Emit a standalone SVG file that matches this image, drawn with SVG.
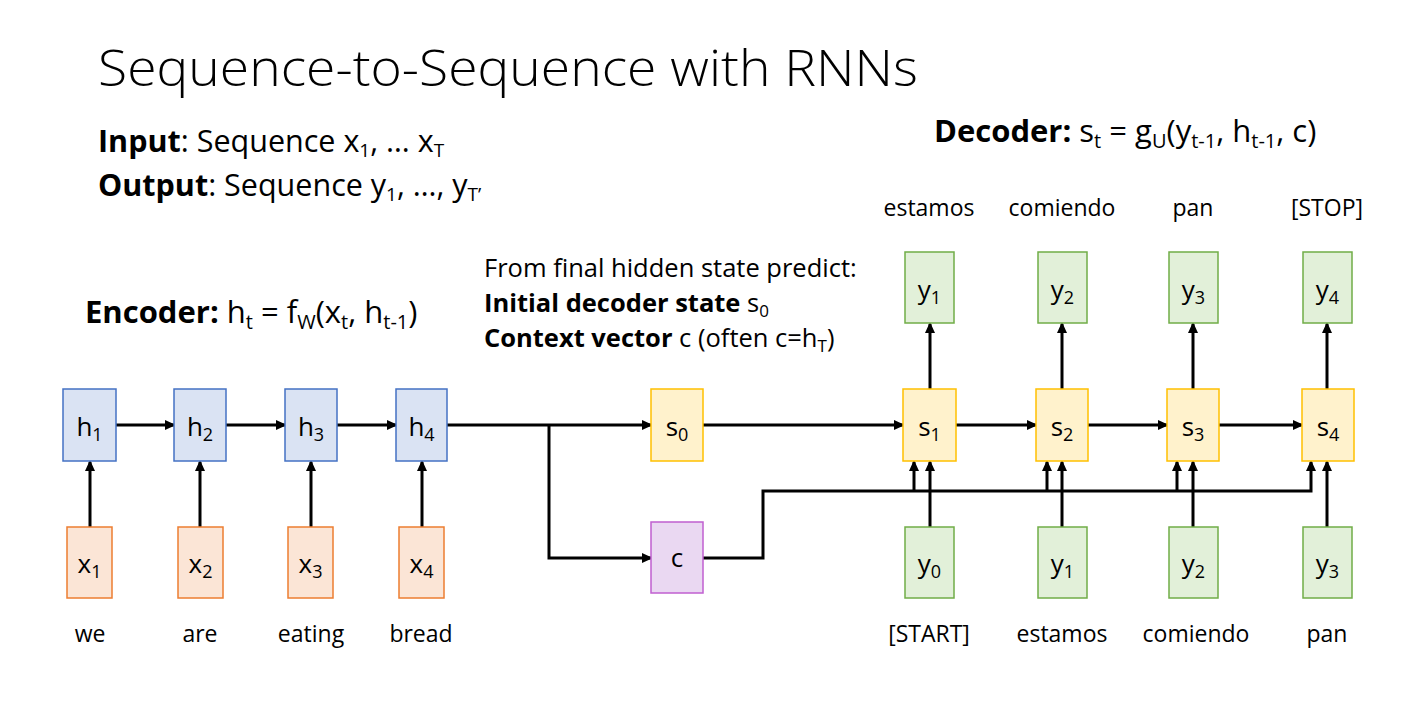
<svg xmlns="http://www.w3.org/2000/svg" width="1413" height="701" viewBox="0 0 1413 701">
<style>
text{font-family:"Open Sans","Liberation Sans",sans-serif;fill:#000}
.b{font-weight:bold}
.lbl{font-size:26px;text-anchor:middle}
.w{font-size:23px;text-anchor:middle}
.enc{fill:#dae3f3;stroke:#4472c4;stroke-width:1.5}
.inp{fill:#fbe5d6;stroke:#ed7d31;stroke-width:1.5}
.dec{fill:#fff2cc;stroke:#ffc000;stroke-width:1.5}
.out{fill:#e2f0d9;stroke:#70ad47;stroke-width:1.5}
.ctx{fill:#ead8f2;stroke:#c05fd0;stroke-width:1.5}
.ar{fill:none;stroke:#000;stroke-width:3;marker-end:url(#ah)}
</style>
<defs>
<marker id="ah" markerUnits="userSpaceOnUse" markerWidth="11" markerHeight="10" refX="9" refY="5" orient="auto">
<path d="M0,0 L11,5 L0,10 z" fill="#000"/>
</marker>
</defs>
<rect width="1413" height="701" fill="#fff"/>
<text x="98" y="86" font-size="50" font-weight="300" textLength="820" lengthAdjust="spacingAndGlyphs">Sequence-to-Sequence with RNNs</text>
<text x="98" y="152" font-size="30.5"><tspan class="b">Input</tspan>: Sequence x<tspan font-size="19" dy="5">1</tspan><tspan dy="-5">, … x</tspan><tspan font-size="19" dy="5">T</tspan></text>
<text x="98" y="196" font-size="30.5"><tspan class="b">Output</tspan>: Sequence y<tspan font-size="19" dy="5">1</tspan><tspan dy="-5">, …, y</tspan><tspan font-size="19" dy="5">T’</tspan></text>
<text x="934" y="142" font-size="31"><tspan class="b">Decoder:</tspan> s<tspan font-size="20" dy="6">t</tspan><tspan dy="-6"> = g</tspan><tspan font-size="20" dy="6">U</tspan><tspan dy="-6">(y</tspan><tspan font-size="20" dy="6">t-1</tspan><tspan dy="-6">, h</tspan><tspan font-size="20" dy="6">t-1</tspan><tspan dy="-6">, c)</tspan></text>
<text x="85" y="323" font-size="31"><tspan class="b">Encoder:</tspan> h<tspan font-size="20" dy="6">t</tspan><tspan dy="-6"> = f</tspan><tspan font-size="20" dy="6">W</tspan><tspan dy="-6">(x</tspan><tspan font-size="20" dy="6">t</tspan><tspan dy="-6">, h</tspan><tspan font-size="20" dy="6">t-1</tspan><tspan dy="-6">)</tspan></text>
<text x="484" y="277" font-size="25.5">From final hidden state predict:</text>
<text x="484" y="312" font-size="25.5"><tspan class="b">Initial decoder state</tspan> s<tspan font-size="17" dy="5">0</tspan></text>
<text x="484" y="347" font-size="25.5"><tspan class="b">Context vector</tspan> c (often c=h<tspan font-size="17" dy="5">T</tspan><tspan dy="-5">)</tspan></text>

<g id="connectors">
<path class="ar" d="M90,527 V462"/>
<path class="ar" d="M200,527 V462"/>
<path class="ar" d="M311,527 V462"/>
<path class="ar" d="M422,527 V462"/>
<path class="ar" d="M116,425 H174"/>
<path class="ar" d="M226,425 H285"/>
<path class="ar" d="M337,425 H396"/>
<path class="ar" d="M447,425 H651"/>
<path class="ar" d="M549,425 V558 H651"/>
<path class="ar" d="M703,425 H903"/>
<path class="ar" d="M956,425 H1036"/>
<path class="ar" d="M1088,425 H1167"/>
<path class="ar" d="M1219,425 H1302"/>
<path class="ar" d="M703,558 H763 V491 H1311 V462"/>
<path class="ar" d="M914,491 V462"/>
<path class="ar" d="M1047,491 V462"/>
<path class="ar" d="M1177,491 V462"/>
<path class="ar" d="M930,527 V462"/>
<path class="ar" d="M1062,527 V462"/>
<path class="ar" d="M1193,527 V462"/>
<path class="ar" d="M1327,527 V462"/>
<path class="ar" d="M930,389 V324"/>
<path class="ar" d="M1062,389 V324"/>
<path class="ar" d="M1193,389 V324"/>
<path class="ar" d="M1327,389 V324"/>
</g>

<g id="h1"><rect class="enc" x="63" y="389" width="53" height="72"/><text class="lbl" x="89.5" y="436">h<tspan font-size="18" dy="5">1</tspan></text></g>
<g id="h2"><rect class="enc" x="174" y="389" width="52" height="72"/><text class="lbl" x="200" y="436">h<tspan font-size="18" dy="5">2</tspan></text></g>
<g id="h3"><rect class="enc" x="285" y="389" width="52" height="72"/><text class="lbl" x="311" y="436">h<tspan font-size="18" dy="5">3</tspan></text></g>
<g id="h4"><rect class="enc" x="396" y="389" width="51" height="72"/><text class="lbl" x="421.5" y="436">h<tspan font-size="18" dy="5">4</tspan></text></g>

<g id="x1"><rect class="inp" x="67" y="527" width="45" height="71"/><text class="lbl" x="89.5" y="573">x<tspan font-size="18" dy="5">1</tspan></text></g>
<g id="x2"><rect class="inp" x="178" y="527" width="45" height="71"/><text class="lbl" x="200.5" y="573">x<tspan font-size="18" dy="5">2</tspan></text></g>
<g id="x3"><rect class="inp" x="288" y="527" width="45" height="71"/><text class="lbl" x="310.5" y="573">x<tspan font-size="18" dy="5">3</tspan></text></g>
<g id="x4"><rect class="inp" x="399" y="527" width="45" height="71"/><text class="lbl" x="421.5" y="573">x<tspan font-size="18" dy="5">4</tspan></text></g>

<g id="s0"><rect class="dec" x="651" y="389" width="52" height="72"/><text class="lbl" x="677" y="436">s<tspan font-size="18" dy="5">0</tspan></text></g>
<g id="c"><rect class="ctx" x="651" y="522" width="52" height="71"/><text class="lbl" x="677" y="567">c</text></g>

<g id="s1"><rect class="dec" x="903" y="389" width="53" height="72"/><text class="lbl" x="929.5" y="436">s<tspan font-size="18" dy="5">1</tspan></text></g>
<g id="s2"><rect class="dec" x="1036" y="389" width="52" height="72"/><text class="lbl" x="1062" y="436">s<tspan font-size="18" dy="5">2</tspan></text></g>
<g id="s3"><rect class="dec" x="1167" y="389" width="52" height="72"/><text class="lbl" x="1193" y="436">s<tspan font-size="18" dy="5">3</tspan></text></g>
<g id="s4"><rect class="dec" x="1302" y="389" width="52" height="72"/><text class="lbl" x="1328" y="436">s<tspan font-size="18" dy="5">4</tspan></text></g>

<g id="yin0"><rect class="out" x="905" y="527" width="49" height="71"/><text class="lbl" x="929.5" y="573">y<tspan font-size="18" dy="5">0</tspan></text></g>
<g id="yin1"><rect class="out" x="1038" y="527" width="49" height="71"/><text class="lbl" x="1062.5" y="573">y<tspan font-size="18" dy="5">1</tspan></text></g>
<g id="yin2"><rect class="out" x="1169" y="527" width="49" height="71"/><text class="lbl" x="1193.5" y="573">y<tspan font-size="18" dy="5">2</tspan></text></g>
<g id="yin3"><rect class="out" x="1303" y="527" width="49" height="71"/><text class="lbl" x="1327.5" y="573">y<tspan font-size="18" dy="5">3</tspan></text></g>

<g id="yout1"><rect class="out" x="905" y="252" width="49" height="71"/><text class="lbl" x="929.5" y="299">y<tspan font-size="18" dy="5">1</tspan></text></g>
<g id="yout2"><rect class="out" x="1038" y="252" width="49" height="71"/><text class="lbl" x="1062.5" y="299">y<tspan font-size="18" dy="5">2</tspan></text></g>
<g id="yout3"><rect class="out" x="1169" y="252" width="49" height="71"/><text class="lbl" x="1193.5" y="299">y<tspan font-size="18" dy="5">3</tspan></text></g>
<g id="yout4"><rect class="out" x="1303" y="252" width="49" height="71"/><text class="lbl" x="1327.5" y="299">y<tspan font-size="18" dy="5">4</tspan></text></g>

<g id="words">
<text class="w" x="90" y="642">we</text>
<text class="w" x="200" y="642">are</text>
<text class="w" x="311" y="642">eating</text>
<text class="w" x="421" y="642">bread</text>
<text class="w" x="929" y="642">[START]</text>
<text class="w" x="1062" y="642">estamos</text>
<text class="w" x="1196" y="642">comiendo</text>
<text class="w" x="1327" y="642">pan</text>
<text class="w" x="929" y="216">estamos</text>
<text class="w" x="1062" y="216">comiendo</text>
<text class="w" x="1193" y="216">pan</text>
<text class="w" x="1327" y="216">[STOP]</text>
</g>
</svg>
